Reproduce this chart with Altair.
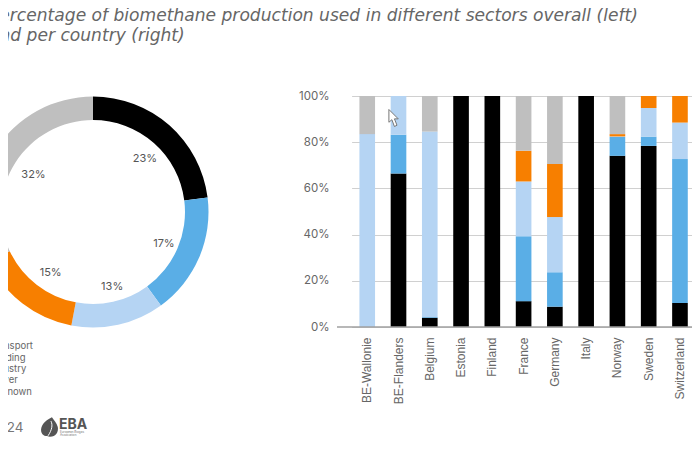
import altair as alt
import pandas as pd

sectors = ["Transport", "Building", "Industry", "Power", "Unknown"]
colors = ["#000000", "#5AAEE6", "#B5D4F3", "#F77F00", "#BFBFBF"]
overall = [23, 17, 13, 15, 32]
countries = ["BE-Wallonie", "BE-Flanders", "Belgium", "Estonia", "Finland", "France",
             "Germany", "Italy", "Norway", "Sweden", "Switzerland"]
transport = [0, 66.5, 4, 100, 100, 11.2, 8.8, 100, 74.1, 78.4, 10.4]
building = [0, 16.7, 0.3, 0, 0, 28.1, 14.9, 0, 8.2, 4, 62.3]
industry = [83.5, 16.8, 80.3, 0, 0, 23.7, 23.9, 0, 0.2, 12.4, 15.8]
power = [0, 0, 0, 0, 0, 13.3, 23, 0, 1, 5.2, 11.5]
unknown = [16.5, 0, 15.4, 0, 0, 23.7, 29.4, 0, 16.5, 0, 0]
y_ticks = [0, 20, 40, 60, 80, 100]
title_lines = ["Percentage of biomethane production used in different sectors overall (left)",
               "and per country (right)"]
date_text = ["2024"]
logo_name = ["EBA"]
logo_sub = ["European Biogas", "Association"]

OX, OY = 337, 96  # page position of the plot origin


def px(v):
    return alt.value(v - OX)


def py(v):
    return alt.value(v - OY)


series = [transport, building, industry, power, unknown]
bars_df = pd.DataFrame(
    [{"country": c, "sector": s, "idx": i, "value": series[i][j]}
     for i, s in enumerate(sectors) for j, c in enumerate(countries)]
)
donut_df = pd.DataFrame({"sector": sectors, "idx": range(5), "value": overall,
                         "label": [f"{v}%" for v in overall]})

color = alt.Color(
    "sector:N",
    scale=alt.Scale(domain=sectors, range=colors),
    legend=alt.Legend(orient="none", legendX=-361, legendY=245.5, title=None,
                      labelFontSize=9.5, labelColor="#666", labelFont="Inter",
                      symbolType="square", symbolSize=50, rowPadding=0.4, labelOffset=4),
)

bars = alt.Chart(bars_df).mark_bar(clip=False).encode(
    x=alt.X("country:N", sort=countries,
            scale=alt.Scale(range=[14.6, 358.6], paddingInner=0.5, paddingOuter=0.25),
            axis=alt.Axis(title=None, labelAngle=270, labelFontSize=12, labelFont="Liberation Sans",
                          labelColor="#666", ticks=False, domain=False, labelPadding=10)),
    y=alt.Y("value:Q", stack="zero", scale=alt.Scale(domain=[0, 100]),
            axis=alt.Axis(title=None, values=y_ticks, labelExpr="datum.value + '%'",
                          labelFontSize=11.5, labelFont="Inter", labelColor="#666",
                          ticks=False, domain=False, labelPadding=8,
                          grid=True, gridColor="#D0D0D0", gridWidth=1.2)),
    color=color,
    order=alt.Order("idx:Q"),
)

zero_line = alt.Chart(pd.DataFrame({"v": [0]})).mark_rule(color="#A0A0A0", strokeWidth=1.5).encode(
    y="v:Q", x=alt.value(0), x2=alt.value(355))

theta = alt.Theta("value:Q", stack=True, scale=alt.Scale(domain=[0, 100], range=[0, 6.2832]))

donut = alt.Chart(donut_df).mark_arc(outerRadius=115.5, innerRadius=92).encode(
    theta=theta, color=color, order=alt.Order("idx:Q"),
    x=px(93), y=py(212))

donut_text = alt.Chart(donut_df).mark_text(radius=74, fontSize=11, font="Inter", color="#555", dx=3, dy=3).encode(
    theta=theta, detail="sector:N", order=alt.Order("idx:Q"), text="label:N",
    x=px(93), y=py(212))


def text_layer(values, x, y, **kw):
    return alt.Chart(pd.DataFrame({"t": values})).mark_text(align="left", baseline="alphabetic", **kw).encode(
        text="t:N", x=px(x), y=py(y))


title1 = text_layer(title_lines[:1], -11, 21, fontSize=17.1, font="DejaVu Sans", fontStyle="italic", color="#666")
title2 = text_layer(title_lines[1:], -11, 41, fontSize=17.1, font="DejaVu Sans", fontStyle="italic", color="#666")
date = text_layer(date_text, -10, 432, fontSize=13.5, font="Inter", color="#777")
name = text_layer(logo_name, 59, 429, fontSize=14, font="Inter", fontWeight="bold", color="#555")
sub1 = text_layer(logo_sub[:1], 60, 432.5, fontSize=3, font="Inter", color="#777")
sub2 = text_layer(logo_sub[1:], 60, 436, fontSize=3, font="Inter", color="#777")

leaf = alt.Chart(pd.DataFrame({"k": ["leaf"]})).mark_point(
    shape="M 0.2 -1 C -0.6 -0.6 -1 -0.1 -0.9 0.5 C -0.8 0.9 -0.4 1 0 1 C 0.6 1 0.9 0.5 0.8 0 C 0.7 -0.4 0.4 -0.7 0.2 -1 Z",
    filled=True, color="#555", opacity=1, size=380).encode(detail="k:N", x=px(50), y=py(427))

vein = alt.Chart(pd.DataFrame({"k": ["vein"]})).mark_point(
    shape="M 0.1 -0.6 C 0.3 -0.2 0.2 0.3 -0.2 0.9",
    filled=False, stroke="#FFFFFF", strokeWidth=1, opacity=1, size=380).encode(detail="k:N", x=px(50), y=py(427))

cursor = alt.Chart(pd.DataFrame({"k": ["cursor"]})).mark_point(
    shape="M -0.6 -1 L -0.6 0.5 L -0.25 0.2 L 0.05 1 L 0.35 0.85 L 0.05 0.1 L 0.5 0.1 Z",
    filled=True, fill="#FFFFFF", stroke="#777", strokeWidth=1, opacity=1, size=290).encode(
    detail="k:N", x=px(394), y=py(118))

chart = alt.layer(
    bars, zero_line, donut, donut_text, title1, title2, date, name, sub1, sub2, leaf, vein, cursor
).resolve_scale(x="shared", y="shared", theta="independent").properties(
    width=355, height=231,
    autosize=alt.AutoSizeParams(type="none"),
    padding={"left": 329, "top": 88, "right": 0, "bottom": 110},
    background="white",
).configure_view(stroke=None)

chart.save("out.html", embed_options={"renderer": "svg", "actions": False})
